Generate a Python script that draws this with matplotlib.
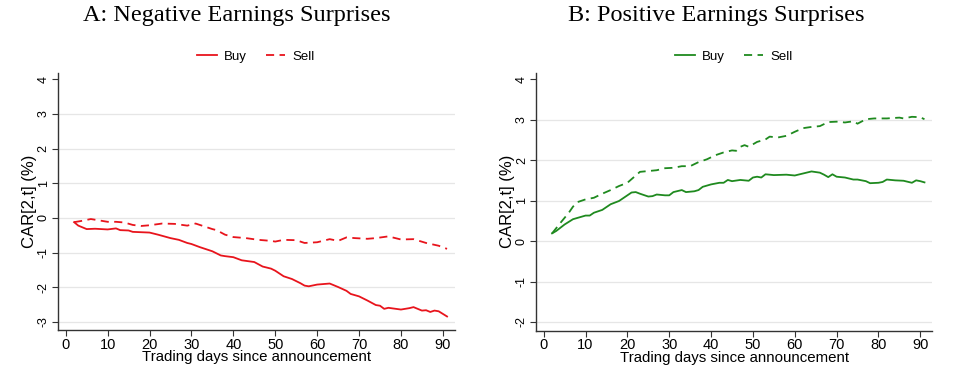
import matplotlib
matplotlib.use("Agg")
import matplotlib.pyplot as plt
from matplotlib.lines import Line2D

plt.rcParams["axes.unicode_minus"] = False

# ---------------- data ----------------
neg_buy_days = [2, 3, 5, 7, 10, 12, 13, 15, 16, 20, 22, 25, 27, 29, 30, 32, 35, 37, 38, 40,
                42, 45, 47, 49, 50, 52, 54, 56, 57, 58, 60, 63, 65, 67, 68, 70, 72, 74, 75,
                76, 77, 80, 82, 83, 85, 86, 87, 88, 89, 91]
neg_buy_car = [-0.12, -0.22, -0.32, -0.31, -0.33, -0.30, -0.35, -0.36, -0.40, -0.42, -0.48,
               -0.58, -0.63, -0.72, -0.75, -0.84, -0.96, -1.08, -1.10, -1.13, -1.22, -1.27,
               -1.40, -1.46, -1.52, -1.68, -1.76, -1.88, -1.95, -1.97, -1.92, -1.89, -1.99,
               -2.10, -2.19, -2.26, -2.38, -2.51, -2.53, -2.62, -2.59, -2.64, -2.60, -2.57,
               -2.67, -2.66, -2.71, -2.67, -2.69, -2.84]

neg_sell_days = [2, 4, 6, 8, 10, 12, 14, 16, 18, 20, 23, 26, 29, 31, 33, 35, 36, 38, 40, 43,
                 46, 49, 50, 52, 55, 57, 60, 63, 65, 67, 69, 72, 74, 77, 80, 83, 86, 89, 91]
neg_sell_car = [-0.12, -0.08, -0.03, -0.07, -0.11, -0.11, -0.13, -0.20, -0.23, -0.21, -0.16,
                -0.17, -0.22, -0.16, -0.24, -0.32, -0.35, -0.48, -0.55, -0.58, -0.63, -0.66,
                -0.68, -0.63, -0.64, -0.72, -0.70, -0.61, -0.66, -0.56, -0.58, -0.60, -0.58,
                -0.53, -0.62, -0.61, -0.72, -0.80, -0.89]

pos_buy_days = [2, 3, 5, 7, 9, 10, 11, 12, 14, 16, 18, 20, 21, 22, 23, 25, 26, 27, 29, 30,
                31, 33, 34, 36, 37, 38, 40, 42, 43, 44, 45, 47, 49, 50, 51, 52, 53, 55, 58,
                60, 62, 64, 66, 67, 68, 69, 70, 72, 74, 75, 77, 78, 80, 81, 82, 84, 86, 88,
                89, 90, 91]
pos_buy_car = [0.19, 0.25, 0.41, 0.54, 0.60, 0.63, 0.63, 0.70, 0.77, 0.91, 0.99, 1.13, 1.20,
               1.21, 1.17, 1.10, 1.11, 1.15, 1.13, 1.13, 1.21, 1.26, 1.21, 1.23, 1.26, 1.34,
               1.40, 1.44, 1.44, 1.51, 1.48, 1.51, 1.49, 1.57, 1.59, 1.57, 1.65, 1.63, 1.64,
               1.62, 1.67, 1.72, 1.69, 1.64, 1.58, 1.65, 1.59, 1.57, 1.52, 1.52, 1.48, 1.43,
               1.44, 1.46, 1.52, 1.50, 1.49, 1.44, 1.50, 1.48, 1.45]

pos_sell_days = [2, 4, 6, 7, 8, 10, 12, 14, 16, 18, 20, 22, 23, 25, 27, 29, 31, 33, 35, 37,
                 39, 41, 43, 45, 46, 47, 48, 49, 51, 53, 54, 56, 58, 60, 62, 64, 66, 68, 70,
                 72, 74, 75, 77, 79, 82, 85, 86, 88, 90, 91]
pos_sell_car = [0.19, 0.45, 0.70, 0.85, 0.96, 1.03, 1.07, 1.17, 1.26, 1.36, 1.44, 1.62, 1.71,
                1.73, 1.75, 1.80, 1.81, 1.85, 1.85, 1.95, 2.02, 2.12, 2.19, 2.24, 2.23, 2.33,
                2.37, 2.33, 2.45, 2.51, 2.58, 2.56, 2.60, 2.70, 2.79, 2.82, 2.84, 2.94, 2.95,
                2.93, 2.96, 2.90, 3.01, 3.03, 3.03, 3.05, 3.03, 3.07, 3.06, 3.01]

titles = ["A: Negative Earnings Surprises", "B: Positive Earnings Surprises"]
series_labels = ["Buy", "Sell"]
x_ticks = [0, 10, 20, 30, 40, 50, 60, 70, 80, 90]
yticks_a = [-3, -2, -1, 0, 1, 2, 3, 4]
yticks_b = [-2, -1, 0, 1, 2, 3, 4]
xlabel = "Trading days since announcement"
ylabel = "CAR[2,t] (%)"

# ---------------- styling ----------------
RED = "#e8141c"
GREEN = "#1f8a1f"
SANS = "Liberation Sans"
SERIF = "Liberation Serif"

fig = plt.figure(figsize=(9.54, 3.73), dpi=100)
fig.patch.set_facecolor("white")

panels = [
    dict(rect=[58 / 954, 1 - 330 / 373, (455 - 58) / 954, (330 - 72.7) / 373],
         xlim=(-1.84, 92.9), ylim=(-3.23, 4.19), yticks=yticks_a, color=RED,
         buy=(neg_buy_days, neg_buy_car), sell=(neg_sell_days, neg_sell_car),
         title=titles[0], tx=237 / 954, lx=256 / 954),
    dict(rect=[536.3 / 954, 1 - 330.7 / 373, (932 - 536.3) / 954, (330.7 - 72.7) / 373],
         xlim=(-1.77, 92.8), ylim=(-2.215, 4.16), yticks=yticks_b, color=GREEN,
         buy=(pos_buy_days, pos_buy_car), sell=(pos_sell_days, pos_sell_car),
         title=titles[1], tx=716 / 954, lx=734 / 954),
]

DASH = (0, (4.5, 3))

for p in panels:
    ax = fig.add_axes(p["rect"])
    ax.set_xlim(*p["xlim"])
    ax.set_ylim(*p["ylim"])
    for yt in p["yticks"]:
        if yt != 4:
            ax.axhline(yt, color="#e6e6e6", lw=0.9, zorder=0)
    ax.plot(*p["buy"], color=p["color"], lw=1.3, ls="-", zorder=3)
    ax.plot(*p["sell"], color=p["color"], lw=1.3, ls=DASH, zorder=3)

    ax.spines["top"].set_visible(False)
    ax.spines["right"].set_visible(False)
    ax.spines["left"].set_color("#333333")
    ax.spines["bottom"].set_color("#333333")
    ax.spines["left"].set_linewidth(1.0)
    ax.spines["bottom"].set_linewidth(1.0)

    ax.set_xticks(x_ticks)
    ax.set_yticks(p["yticks"])
    ax.tick_params(axis="both", direction="out", length=4, width=0.8, color="#333333")
    ax.tick_params(axis="x", labelsize=10.5, pad=1.5)
    ax.tick_params(axis="y", labelsize=9, pad=2)
    for lab in ax.get_xticklabels():
        lab.set_fontfamily(SANS)
    for lab in ax.get_yticklabels():
        lab.set_fontfamily(SANS)
        lab.set_rotation(90)
        lab.set_va("center")
    ax.set_xlabel(xlabel, fontsize=10.8, fontfamily=SANS, labelpad=-1)
    ax.set_ylabel(ylabel, fontsize=12, fontfamily=SANS, labelpad=0.5)

    fig.text(p["tx"], 1 - 15 / 373, p["title"], ha="center", va="center",
             fontsize=17.5, fontfamily=SERIF)

    handles = [Line2D([0], [0], color=p["color"], lw=1.3, ls="-"),
               Line2D([0], [0], color=p["color"], lw=1.3, ls=DASH)]
    fig.legend(handles, series_labels, loc="center", bbox_to_anchor=(p["lx"], 1 - 57 / 373),
               ncol=2, frameon=False, prop=dict(family=SANS, size=9.5),
               handlelength=1.5, columnspacing=1.4, handletextpad=0.55)

fig.savefig("out.png", dpi=100, facecolor="white")
